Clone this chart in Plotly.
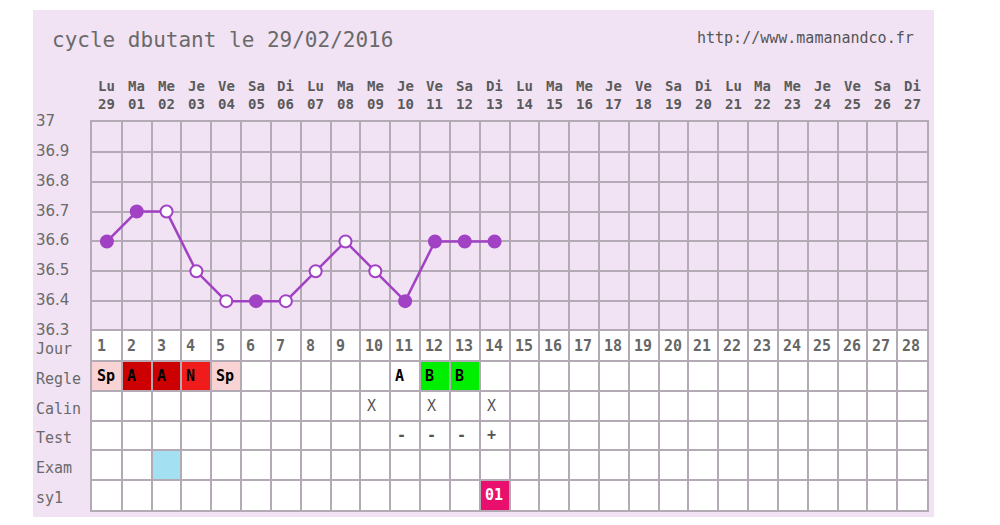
import plotly.graph_objects as go

# ---------------- data ----------------
day_names = ["Lu", "Ma", "Me", "Je", "Ve", "Sa", "Di"] * 4
day_dates = ["29", "01", "02", "03", "04", "05", "06", "07", "08", "09", "10", "11", "12", "13",
             "14", "15", "16", "17", "18", "19", "20", "21", "22", "23", "24", "25", "26", "27"]
cycle_days = list(range(1, 29))

temp_days = list(range(1, 15))
temps = [36.6, 36.7, 36.7, 36.5, 36.4, 36.4, 36.4, 36.5, 36.6, 36.5, 36.4, 36.6, 36.6, 36.6]
filled = [True, True, False, False, False, True, False, False, False, False, True, True, True, True]

temp_ticks = [37.0, 36.9, 36.8, 36.7, 36.6, 36.5, 36.4, 36.3]
temp_tick_labels = ["37", "36.9", "36.8", "36.7", "36.6", "36.5", "36.4", "36.3"]

row_labels = ["Jour", "Regle", "Calin", "Test", "Exam", "sy1"]

regle_days = [1, 2, 3, 4, 5, 11, 12, 13]
regle_text = ["Sp", "A", "A", "N", "Sp", "A", "B", "B"]
regle_colors = ["#f9d3d3", "#cc0000", "#cc0000", "#f01c1c", "#f9d3d3", "#ffffff", "#00ee00", "#00ee00"]

calin_days = [10, 12, 14]
calin_text = ["X", "X", "X"]

test_days = [11, 12, 13, 14]
test_text = ["-", "-", "-", "+"]

exam_days = [3]
exam_colors = ["#a3e1f2"]

sy1_days = [14]
sy1_text = ["01"]
sy1_colors = ["#e8106c"]

title_text = "cycle dbutant le 29/02/2016"
url_text = "http://www.mamanandco.fr"

# ---------------- style ----------------
# page body has an 8px margin, so the figure is sized / positioned to compensate
OX, OY = 8, 8
W, H = 984, 509
PANEL = "#f1e3f4"
GRID = "#b3aab5"
PURPLE = "#a142c4"
GRAYTXT = "#6a6a6a"
HEADTXT = "#5a5a5a"
MONO = "DejaVu Sans Mono"


def px(pix):
    return (pix - OX) / W


def py(pix):
    return 1 - (pix - OY) / H


x_dom = [px(92), px(927)]
temp_dom = [py(331), py(122)]
tab_dom = [py(510), py(331)]

fig = go.Figure()

# temperature line
fig.add_trace(go.Scatter(
    x=temp_days, y=temps, mode="lines",
    line=dict(color=PURPLE, width=2.5),
    xaxis="x", yaxis="y", hoverinfo="skip", showlegend=False))
fig.add_trace(go.Scatter(
    x=temp_days, y=temps, mode="markers",
    marker=dict(size=12, symbol="circle",
                color=[PURPLE if f else "#ffffff" for f in filled],
                line=dict(color=PURPLE, width=2)),
    xaxis="x", yaxis="y", showlegend=False, cliponaxis=False))

grid_vals = [c - 0.5 for c in cycle_days] + [28.5]

axis_common = dict(showgrid=True, gridcolor=GRID, gridwidth=1.5, zeroline=False,
                   showline=True, mirror=True, linecolor=GRID, linewidth=1.5,
                   showticklabels=False, ticks="")

fig.update_layout(
    width=W, height=H,
    margin=dict(l=0, r=0, t=0, b=0),
    paper_bgcolor="#ffffff",
    plot_bgcolor="rgba(0,0,0,0)",
    xaxis=dict(domain=x_dom, range=[0.5, 28.5], tickmode="array", tickvals=grid_vals,
               anchor="y", **axis_common),
    yaxis=dict(domain=temp_dom, range=[36.3, 37.0], tickmode="array", tickvals=temp_ticks,
               anchor="x", **axis_common),
    xaxis2=dict(domain=x_dom, range=[0.5, 28.5], tickmode="array", tickvals=grid_vals,
                anchor="y2", **axis_common),
    yaxis2=dict(domain=tab_dom, range=[6, 0], tickmode="array", tickvals=list(range(7)),
                anchor="x2", **axis_common),
    showlegend=False,
)

shapes = []
# panel background
shapes.append(dict(type="rect", xref="paper", yref="paper", x0=px(33), x1=px(934),
                   y0=py(517), y1=py(10), fillcolor=PANEL, line=dict(width=0), layer="below"))
# table white background
shapes.append(dict(type="rect", xref="x2", yref="y2", x0=0.5, x1=28.5, y0=0, y1=6,
                   fillcolor="#ffffff", line=dict(width=0), layer="below"))


def cell(day, row, color):
    return dict(type="rect", xref="x2", yref="y2", x0=day - 0.5, x1=day + 0.5,
                y0=row, y1=row + 1, fillcolor=color, line=dict(width=0), layer="below")


for d, c in zip(regle_days, regle_colors):
    shapes.append(cell(d, 1, c))
for d, c in zip(exam_days, exam_colors):
    shapes.append(cell(d, 4, c))
for d, c in zip(sy1_days, sy1_colors):
    shapes.append(cell(d, 5, c))

fig.update_layout(shapes=shapes)

ann = []
# title + url
ann.append(dict(text=title_text, xref="paper", yref="paper", x=px(50), y=py(40),
                xanchor="left", yanchor="middle", showarrow=False,
                font=dict(family=MONO, size=21, color=GRAYTXT)))
ann.append(dict(text=url_text, xref="paper", yref="paper", x=px(916), y=py(38),
                xanchor="right", yanchor="middle", showarrow=False,
                font=dict(family=MONO, size=15, color="#555555")))

# header day names / dates (one two-line label per day)
for d, n, dt in zip(cycle_days, day_names, day_dates):
    ann.append(dict(text="<b>%s<br>%s</b>" % (n, dt), xref="x", yref="paper", x=d, y=py(95),
                    xanchor="center", yanchor="middle", showarrow=False, borderpad=0,
                    font=dict(family=MONO, size=14, color=HEADTXT)))

# temperature labels
for t, lab in zip(temp_ticks, temp_tick_labels):
    ann.append(dict(text=lab, xref="paper", yref="y", x=px(34), y=t, yshift=1,
                    xanchor="left", yanchor="middle", showarrow=False,
                    font=dict(family="DejaVu Sans", size=15, color=GRAYTXT)))

# row labels
for i, lab in enumerate(row_labels):
    ann.append(dict(text=lab, xref="paper", yref="y2", x=px(34), y=i + 0.5, yshift=-3,
                    xanchor="left", yanchor="middle", showarrow=False,
                    font=dict(family=MONO, size=15, color=GRAYTXT)))


def cell_text(day, row, txt, color="#000000", bold=True, size=15):
    return dict(text=("<b>%s</b>" % txt) if bold else txt, xref="x2", yref="y2",
                x=day - 0.5, y=row + 0.5, xshift=3, xanchor="left", yanchor="middle",
                showarrow=False, font=dict(family=MONO, size=size, color=color))


for d in cycle_days:
    ann.append(cell_text(d, 0, str(d), color="#666666"))
for d, t in zip(regle_days, regle_text):
    ann.append(cell_text(d, 1, t))
for d, t in zip(calin_days, calin_text):
    a = cell_text(d, 2, t, color="#555555", bold=False)
    a["xshift"] = 5
    ann.append(a)
for d, t in zip(test_days, test_text):
    a = cell_text(d, 3, t, color="#555555")
    a["xshift"] = 5
    ann.append(a)
for d, t in zip(sy1_days, sy1_text):
    ann.append(cell_text(d, 5, t, color="#ffffff"))

fig.update_layout(annotations=ann)

fig.write_html("out.html")
